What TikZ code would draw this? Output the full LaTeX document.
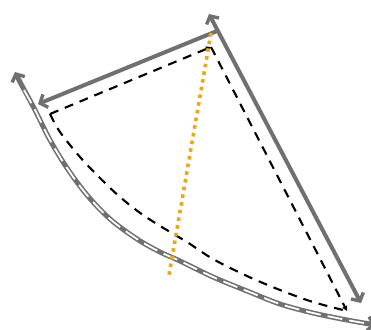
\documentclass[tikz,border=0pt]{standalone}
\usetikzlibrary{arrows.meta}
\definecolor{linegray}{RGB}{112,112,112}
\definecolor{gold}{RGB}{232,168,28}
\tikzset{
  solidarrow/.style={draw=linegray, line width=4pt, line cap=butt},
  barb/.tip={Straight Barb[length=6pt,width=14pt,line width=3.4pt]},
  smalltip/.tip={Triangle[length=5pt,width=5pt]},
  dashline/.style={draw=black, line width=2.1pt, dash pattern=on 9pt off 7pt},
  dotline/.style={draw=gold, line width=3.6pt, dash pattern=on 3.6pt off 4.2pt},
  arcouter/.style={draw=linegray, line width=5pt},
  arcinner/.style={draw=white, line width=1.8pt, dash pattern=on 15pt off 7pt}
}
\begin{document}
\begin{tikzpicture}[x=1pt,y=-1pt]
\useasboundingbox (0,0) rectangle (371,329);
\clip (0,0) rectangle (371,329);
% coordinates
\coordinate (rtop) at (209,14);
\coordinate (corner) at (217,31);
\coordinate (rbot) at (361,303);
\coordinate (ltip) at (38,104);
\coordinate (dtop) at (211,47);
\coordinate (dleft) at (50,114);
\coordinate (dbr) at (347,311);
\coordinate (otop) at (211,33);
\coordinate (obot) at (169,275);
% outer double arc
\draw[arcouter, arrows={barb-barb}] plot[smooth, tension=0.55] coordinates {(15,72) (20,82) (35,110) (50,140) (67,168) (87,195) (110,219) (137,239) (160,252) (180,261) (213,277) (247,291) (280,304) (313,313) (347,320) (376,325)};
\draw[arcinner] plot[smooth, tension=0.55] coordinates {(24,90) (35,110) (50,140) (67,168) (87,195) (110,219) (137,239) (160,252) (180,261) (213,277) (247,291) (280,304) (313,313) (347,320) (364,323)};
% dashed inner shape
\draw[dashline] plot[smooth, tension=0.55] coordinates {(dleft) (60,132) (80,157) (100,178) (120,197) (143,215) (170,232) (187,242) (213,259) (247,276) (280,290) (313,302) (dbr)};
\draw[dashline, -{smalltip}] (dleft) -- (dtop);
\draw[dashline, -{smalltip}] (dtop) -- (dbr);
% solid gray arrows
\draw[solidarrow, arrows={barb-barb}] (rtop) -- (rbot);
\draw[solidarrow, -{barb}] (corner) -- (ltip);
% orange dotted line
\draw[dotline] (otop) -- (obot);
\end{tikzpicture}
\end{document}
